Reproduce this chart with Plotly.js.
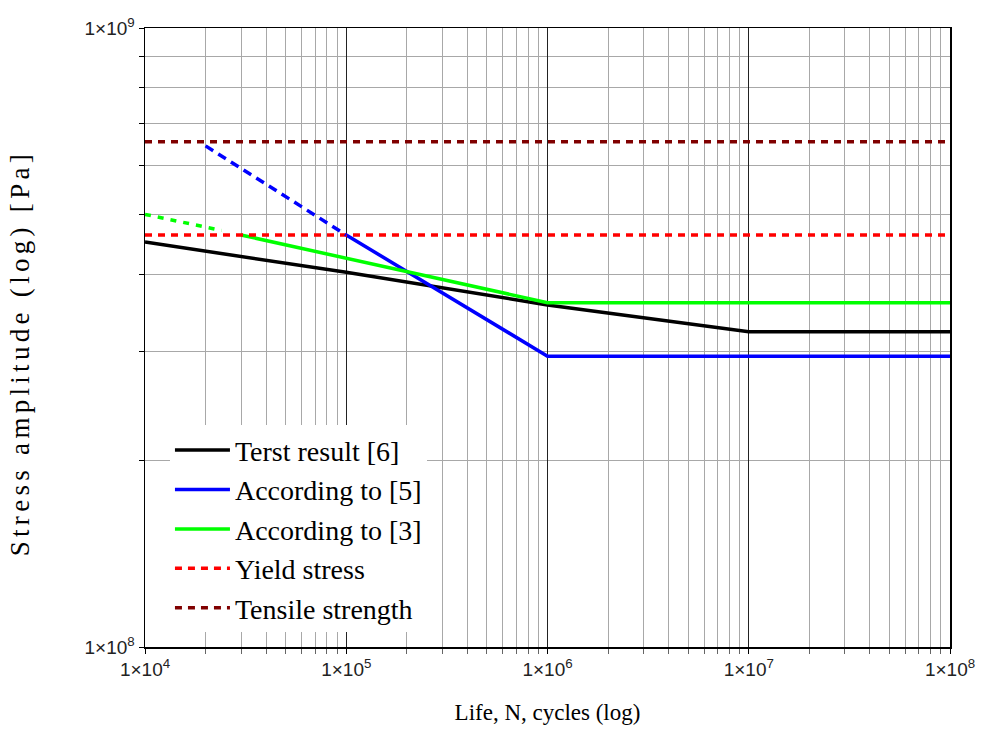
<!DOCTYPE html>
<html>
<head>
<meta charset="utf-8">
<script src="https://cdn.plot.ly/plotly-3.0.1.min.js"></script>
<style>
html,body{margin:0;padding:0;background:#fff;}
#chart{width:983px;height:734px;}
#chart .annotation-text{letter-spacing:4.3px;}
</style>
</head>
<body>
<div id="chart"></div>
<script>
// ---- data ----
const testN = [1e4, 1e5, 1e6, 1e7, 1e8];
const testS = [4.51e8, 4.03e8, 3.57e8, 3.23e8, 3.23e8];

const ref5N = [1e5, 1e6, 1e8];
const ref5S = [4.63e8, 2.95e8, 2.95e8];
const ref5ExtN = [2e4, 1e5];
const ref5ExtS = [6.45e8, 4.63e8];

const ref3N = [3e4, 1e6, 1e8];
const ref3S = [4.63e8, 3.6e8, 3.6e8];
const ref3ExtN = [1e4, 2.4e4];
const ref3ExtS = [5.0e8, 4.71e8];

const limitN = [1e4, 1e8];
const yieldS = [4.63e8, 4.63e8];
const tensileS = [6.55e8, 6.55e8];

const xTickVals = [1e4, 1e5, 1e6, 1e7, 1e8];
const xTickText = ['1×10<sup>4</sup>', '1×10<sup>5</sup>', '1×10<sup>6</sup>', '1×10<sup>7</sup>', '1×10<sup>8</sup>'];
const yTickVals = [1e8, 1e9];
const yTickText = ['1×10<sup>8</sup>', '1×10<sup>9</sup>'];

const names = ['Terst result [6]', 'According to [5]', 'According to [3]', 'Yield stress', 'Tensile strength'];
const xTitle = 'Life, N, cycles (log)';
const yTitle = 'Stress amplitude (log) [Pa]';

// minor grid positions (2..9 within each decade)
function minors(d0, d1) {
  const out = [];
  for (let d = d0; d < d1; d++) for (let k = 2; k <= 9; k++) out.push(k * Math.pow(10, d));
  return out;
}

const traces = [
  {x: testN, y: testS, name: names[0], mode: 'lines', line: {color: '#000000', width: 3.5}},
  {x: ref5N, y: ref5S, name: names[1], mode: 'lines', line: {color: '#0000ff', width: 3.5}},
  {x: ref3N, y: ref3S, name: names[2], mode: 'lines', line: {color: '#00ff00', width: 3.5}},
  {x: limitN, y: yieldS, name: names[3], mode: 'lines', line: {color: '#ff0000', width: 3.5, dash: '7px,6px'}},
  {x: limitN, y: tensileS, name: names[4], mode: 'lines', line: {color: '#800000', width: 3.5, dash: '7px,6px'}},
  {x: ref5ExtN, y: ref5ExtS, mode: 'lines', showlegend: false, line: {color: '#0000ff', width: 3.5, dash: '9px,6px'}},
  {x: ref3ExtN, y: ref3ExtS, mode: 'lines', showlegend: false, line: {color: '#00ff00', width: 3.5, dash: '6px,7px'}}
];

const tickFont = {family: 'Liberation Sans, Arial, sans-serif', size: 19, color: '#222'};
const serif = 'Liberation Serif, Times New Roman, serif';

const layout = {
  width: 983, height: 734,
  margin: {l: 145, r: 33, t: 28, b: 87, pad: 0},
  paper_bgcolor: '#fff', plot_bgcolor: '#fff',
  showlegend: true,
  xaxis: {
    type: 'log', range: [4, 8], autorange: false,
    tickvals: xTickVals, ticktext: xTickText, tickfont: tickFont,
    ticks: 'outside', ticklen: 5, tickcolor: '#000',
    showgrid: true, gridcolor: '#222', gridwidth: 1,
    showline: true, linecolor: '#000', linewidth: 1.5, mirror: true,
    zeroline: false,
    minor: {tickvals: minors(4, 8), ticks: 'outside', ticklen: 5, tickcolor: '#666', showgrid: true, gridcolor: '#a8a8a8', gridwidth: 1},
    title: {text: xTitle, font: {family: serif, size: 23, color: '#000'}, standoff: 24}
  },
  yaxis: {
    type: 'log', range: [8, 9], autorange: false,
    tickvals: yTickVals, ticktext: yTickText, tickfont: tickFont,
    ticks: 'outside', ticklen: 5, tickcolor: '#000',
    showgrid: true, gridcolor: '#222', gridwidth: 1,
    showline: true, linecolor: '#000', linewidth: 1.5, mirror: true,
    zeroline: false,
    minor: {tickvals: minors(8, 9), ticks: 'outside', ticklen: 5, tickcolor: '#000', showgrid: true, gridcolor: '#a8a8a8', gridwidth: 1}
  },
  annotations: [{
    text: yTitle, textangle: -90, showarrow: false,
    xref: 'paper', yref: 'paper', x: -0.155, y: 0.475, xanchor: 'center', yanchor: 'middle',
    font: {family: serif, size: 27, color: '#000'}
  }],
  legend: {
    x: 0.031, y: 0.358, xanchor: 'left', yanchor: 'top',
    bgcolor: '#ffffff', borderwidth: 0, itemwidth: 55,
    font: {family: serif, size: 28, color: '#000'}
  }
};

Plotly.newPlot('chart', traces, layout, {displayModeBar: false, staticPlot: true});
</script>
</body>
</html>
